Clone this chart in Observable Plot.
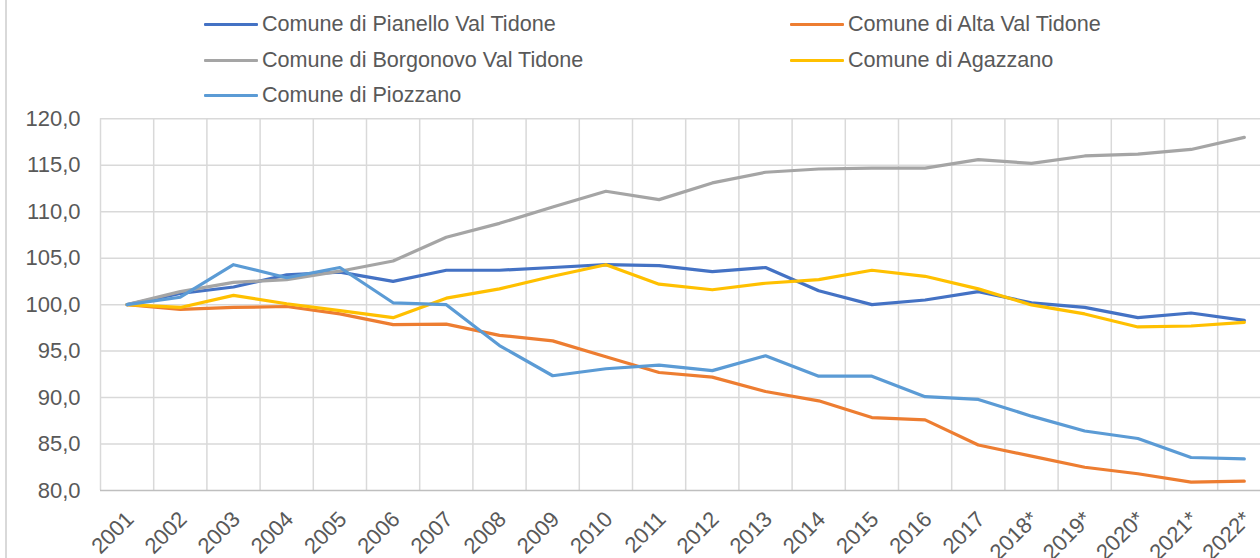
<!DOCTYPE html>
<html>
<head>
<meta charset="utf-8">
<script src="https://cdn.jsdelivr.net/npm/d3@7"></script>
<script src="https://cdn.jsdelivr.net/npm/@observablehq/plot@0.6"></script>
<style>
  html, body { margin: 0; padding: 0; background: #fff; }
  body { width: 1260px; height: 558px; overflow: hidden; position: relative; font-family: "Liberation Sans", Arial, sans-serif; }
  #frame { position: absolute; left: 5px; top: 0; width: 2px; height: 558px; background: #D9D9D9; z-index: 2; }
  #legend { position: relative; height: 90px; }
  .item { position: absolute; display: flex; align-items: center; font-size: 21.6px; color: #595959; height: 24px; }
  .swatch { width: 54px; height: 3px; margin-right: 4px; border-radius: 1px; }
  #chart svg { display: block; }
</style>
</head>
<body>
<div id="frame"></div>
<div id="legend"></div>
<div id="chart"></div>
<script>
// ---- data ----
const years = ["2001","2002","2003","2004","2005","2006","2007","2008","2009","2010","2011","2012","2013","2014","2015","2016","2017","2018*","2019*","2020*","2021*","2022*"];
const seriesNames = ["Comune di Pianello Val Tidone","Comune di Alta Val Tidone","Comune di Borgonovo Val Tidone","Comune di Agazzano","Comune di Piozzano"];
const seriesColors = ["#4472C4","#ED7D31","#A5A5A5","#FFC000","#5B9BD5"];
const pianello  = [100,101.2,101.9,103.2,103.5,102.5,103.7,103.7,104.0,104.3,104.2,103.55,104.0,101.5,100.0,100.5,101.4,100.2,99.7,98.6,99.1,98.3];
const alta      = [100,99.5,99.7,99.8,99.0,97.85,97.9,96.7,96.1,94.4,92.7,92.2,90.65,89.65,87.85,87.6,84.9,83.7,82.5,81.8,80.9,81.0];
const borgonovo = [100,101.4,102.4,102.7,103.6,104.7,107.25,108.75,110.5,112.2,111.3,113.1,114.25,114.6,114.7,114.7,115.6,115.2,116.0,116.2,116.7,118.0];
const agazzano  = [100,99.7,101.0,100.1,99.35,98.6,100.7,101.7,103.05,104.3,102.2,101.6,102.3,102.7,103.7,103.05,101.7,99.97,99.0,97.6,97.7,98.1];
const piozzano  = [100,100.8,104.3,102.9,104.0,100.2,100.0,95.6,92.35,93.1,93.5,92.9,94.5,92.3,92.3,90.1,89.8,88.0,86.4,85.6,83.55,83.4];
const yTicks = [80,85,90,95,100,105,110,115,120];

const allSeries = [pianello, alta, borgonovo, agazzano, piozzano];

// ---- legend ----
const legendPos = [[204,12],[790,12],[204,48],[790,48],[204,83]];
const legend = document.getElementById("legend");
seriesNames.forEach((name, k) => {
  const it = document.createElement("div");
  it.className = "item";
  it.style.left = legendPos[k][0] + "px";
  it.style.top = legendPos[k][1] + "px";
  const sw = document.createElement("span");
  sw.className = "swatch";
  sw.style.background = seriesColors[k];
  const tx = document.createElement("span");
  tx.textContent = name;
  it.appendChild(sw); it.appendChild(tx);
  legend.appendChild(it);
});

// ---- chart ----
const fmt = d => d.toFixed(1).replace(".", ",");
const idx = years.map((_, i) => i);
const edges = d3.range(years.length + 1).map(k => k - 0.5);

const lineMarks = allSeries.map((vals, k) =>
  Plot.line(vals.map((v, i) => ({i, v})), {
    x: "i", y: "v", stroke: seriesColors[k], strokeWidth: 3.2,
    strokeLinejoin: "round", strokeLinecap: "round"
  })
);

const chart = Plot.plot({
  width: 1260,
  height: 468,
  marginTop: 28.3,
  marginBottom: 68,
  marginLeft: 100,
  marginRight: 0,
  style: { fontFamily: "Liberation Sans, Arial, sans-serif", fontSize: "22px", color: "#595959", background: "transparent", overflow: "visible" },
  x: { type: "linear", domain: [-0.5, years.length - 0.5], range: [100, 100 + 53.2 * years.length], axis: null, label: null },
  y: { domain: [80, 120], axis: null, label: null },
  marks: [
    Plot.ruleY(yTicks.slice(1), { stroke: "#D9D9D9", strokeWidth: 1.5 }),
    Plot.ruleX(edges, { stroke: "#D9D9D9", strokeWidth: 1.5 }),
    Plot.ruleY([80], { stroke: "#BFBFBF", strokeWidth: 1.5 }),
    Plot.axisY({ ticks: yTicks, tickFormat: fmt, tickSize: 0, tickPadding: 20, fill: "#595959", fontSize: 22, label: null }),
    Plot.axisX({ ticks: idx, tickFormat: i => years[i], tickRotate: -45, tickSize: 0, tickPadding: 25, dx: 3, fill: "#595959", fontSize: 22, label: null }),
    ...lineMarks
  ]
});
document.getElementById("chart").appendChild(chart);
</script>
</body>
</html>
